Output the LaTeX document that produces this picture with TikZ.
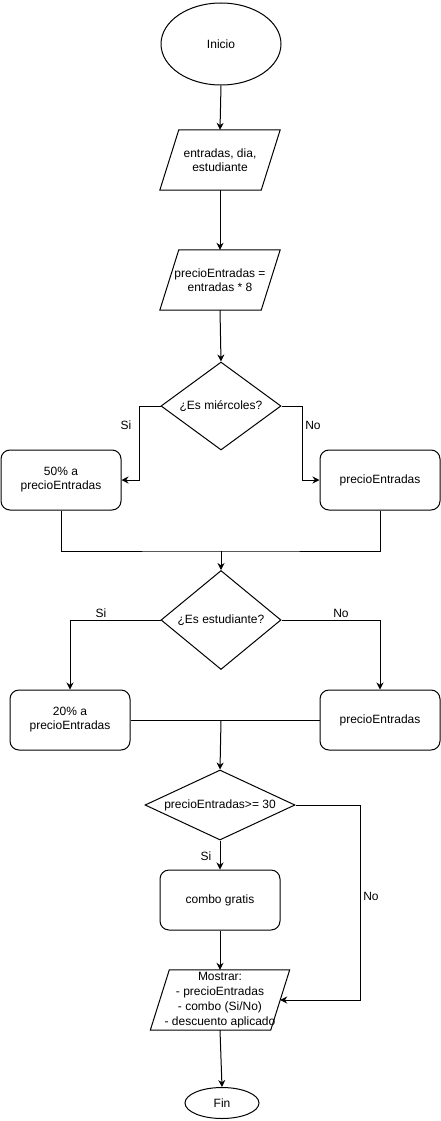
\documentclass[tikz,border=0pt]{standalone}
\usepackage{fontspec}
\setmainfont{Liberation Sans}
\usetikzlibrary{shapes.geometric,arrows.meta,calc}
\begin{document}
\begin{tikzpicture}[x=1pt,y=-1pt,
  every node/.style={font=\fontsize{12}{14}\selectfont, align=center},
  line/.style={draw=black, line width=1pt},
  arr/.style={line, -{Stealth[length=7pt,width=7pt]}},
  term/.style={ellipse, line, inner sep=0pt},
  iobox/.style={rectangle, inner sep=0pt, minimum width=#1, minimum height=60pt},
  procbox/.style={rectangle, rounded corners=9pt, line, inner sep=0pt, minimum width=120pt, minimum height=60pt},
  decision/.style={diamond, line, inner sep=0pt},
  lbl/.style={inner sep=0pt}
]
\useasboundingbox (0,0) rectangle (441,1121);

\node[term, minimum width=120pt, minimum height=82pt] (inicio) at (221,44) {Inicio};

\node[iobox=120pt] (in1) at (220,160) {entradas, dia,\\estudiante};
\draw[line] ([xshift=19pt]in1.north west) -- (in1.north east) -- ([xshift=-19pt]in1.south east) -- (in1.south west) -- cycle;

\node[iobox=120pt] (in2) at (220,280) {precioEntradas =\\entradas * 8};
\draw[line] ([xshift=19pt]in2.north west) -- (in2.north east) -- ([xshift=-19pt]in2.south east) -- (in2.south west) -- cycle;

\node[decision, minimum width=120pt, minimum height=88pt, label={[lbl]center:¿Es miércoles?}] (d1) at (221,406) {};

\node[procbox] (b1) at (61,480) {50\% a\\precioEntradas};
\node[procbox] (b2) at (380,480) {precioEntradas};

\coordinate (m1) at (221,551);

\node[decision, minimum width=120pt, minimum height=99pt, label={[lbl]center:¿Es estudiante?}] (d2) at (221,620) {};

\node[procbox] (b3) at (70,720) {20\% a\\precioEntradas};
\node[procbox] (b4) at (380,720) {precioEntradas};

\coordinate (m2) at (221,720);

\node[decision, minimum width=150pt, minimum height=70pt, label={[lbl]center:precioEntradas>= 30}] (d3) at (220,805) {};

\node[procbox] (b5) at (220,900) {combo gratis};

\node[iobox=139pt, font=\fontsize{12}{15}\selectfont] (p3) at (220,1000) {Mostrar:\\- precioEntradas\\- combo (Si/No)\\- descuento aplicado};
\draw[line] ([xshift=19pt]p3.north west) -- (p3.north east) -- ([xshift=-19pt]p3.south east) -- (p3.south west) -- cycle;
\coordinate (pe) at ($([xshift=-19pt]p3.south east)!0.5!(p3.north east)$);

\node[term, minimum width=74pt, minimum height=31pt] (fin) at (222,1103) {Fin};

% connectors
\draw[arr] (inicio.south) -- (in1.north);
\draw[arr] (in1.south) -- (in2.north);
\draw[arr] (in2.south) -- (d1.north);
\draw[arr] (d1.west) -- ([xshift=-21pt]d1.west) |- (b1.east);
\draw[arr] (d1.east) -- ([xshift=21pt]d1.east) |- (b2.west);
\draw[line] (b1.south) |- (m1) -| (b2.south);
\draw[arr] (m1) -- (d2.north);
\draw[arr] (d2.west) -| (b3.north);
\draw[arr] (d2.east) -| (b4.north);
\draw[line] (b3.east) -- (b4.west);
\draw[arr] (m2) -- (d3.north);
\draw[arr] (d3.south) -- (b5.north);
\draw[arr] (b5.south) -- (p3.north);
\draw[arr] (d3.east) -- ([xshift=65pt]d3.east) |- (pe);
\draw[arr] (p3.south) -- (fin.north);

% labels
\node[lbl] (s1) at (126,425) {Si};
\node[lbl] (n1) at (313,425) {No};
\node[lbl] (s2) at (101,613) {Si};
\node[lbl] (n2) at (341,613) {No};
\node[lbl] (s3) at (206,856) {Si};
\node[lbl] (n3) at (371,896) {No};
\end{tikzpicture}
\end{document}
